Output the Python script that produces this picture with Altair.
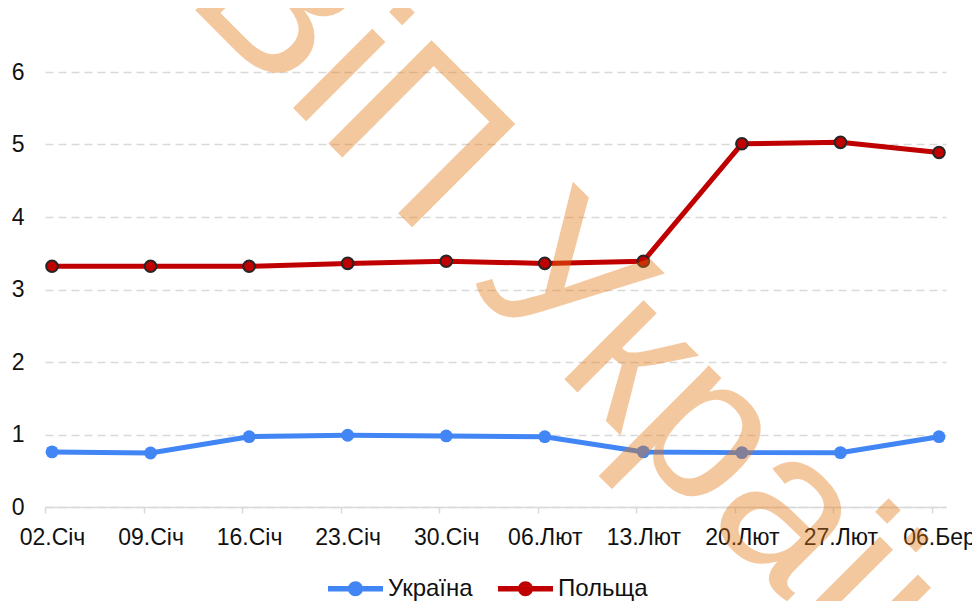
import altair as alt
import pandas as pd

dates = ["02.Січ", "09.Січ", "16.Січ", "23.Січ", "30.Січ",
         "06.Лют", "13.Лют", "20.Лют", "27.Лют", "06.Бер"]
ukraine = [0.76, 0.745, 0.97, 0.99, 0.98, 0.97, 0.76, 0.75, 0.75, 0.97]
poland = [3.32, 3.32, 3.32, 3.36, 3.39, 3.36, 3.39, 5.01, 5.03, 4.89]
series_names = ["Україна", "Польща"]
series_colors = ["#4285F4", "#C00000"]
y_ticks = [0, 1, 2, 3, 4, 5, 6]
watermark = "ВіП України"

rows = []
for d, v in zip(dates, ukraine):
    rows.append({"date": d, "value": v, "series": series_names[0]})
for d, v in zip(dates, poland):
    rows.append({"date": d, "value": v, "series": series_names[1]})
df = pd.DataFrame(rows)

FONT = "Liberation Sans"

legend_path = ("M-1,-0.096L1,-0.096L1,0.096L-1,0.096Z "
               "M0.273,0A0.273,0.273,0,1,1,-0.273,0A0.273,0.273,0,1,1,0.273,0Z")

x_enc = alt.X(
    "date:N", sort=dates, title=None,
    scale=alt.Scale(type="point", padding=0.071),
    axis=alt.Axis(
        labelAngle=0, labelFontSize=23, labelFont=FONT, labelColor="#111111",
        labelPadding=13, tickSize=6, tickColor="#D9D9D9", tickWidth=1.5,
        tickOffset=-7, labelOffset=7,
        domainColor="#D9D9D9", domainWidth=1.5, grid=False,
    ),
)
y_enc = alt.Y(
    "value:Q", title=None,
    scale=alt.Scale(domain=[0, 6], nice=False),
    axis=alt.Axis(
        values=y_ticks, labelFontSize=23, labelFont=FONT, labelColor="#111111",
        labelPadding=21, ticks=False, domain=False,
        grid=True, gridColor="#D9D9D9", gridDash=[8, 5], gridWidth=1.3,
    ),
)

base = alt.Chart(df)
is_pl = alt.datum.series == series_names[1]

lines = base.mark_line(strokeWidth=5).encode(
    x=x_enc, y=y_enc,
    detail="series:N",
    stroke=alt.condition(is_pl, alt.value(series_colors[1]), alt.value(series_colors[0])),
)

points = base.mark_point(filled=True, opacity=1).encode(
    x=x_enc, y=y_enc,
    fill=alt.Fill(
        "series:N", sort=series_names,
        scale=alt.Scale(domain=series_names, range=series_colors),
        legend=alt.Legend(
            title=None, orient="none", direction="horizontal",
            legendX=283, legendY=489, padding=0,
            symbolType=legend_path, symbolSize=3025, symbolStrokeWidth=0,
            symbolOpacity=1,
            labelFontSize=24, labelFont=FONT, labelColor="#111111",
            labelOffset=5, columnPadding=25,
        ),
    ),
    stroke=alt.condition(is_pl, alt.value("#262626"), alt.value(series_colors[0])),
    strokeWidth=alt.condition(is_pl, alt.value(2), alt.value(0)),
    size=alt.condition(is_pl, alt.value(135), alt.value(165)),
)

wm = alt.Chart(pd.DataFrame({"t": [watermark]})).mark_text(
    font=FONT, fontSize=212, angle=45, align="left", baseline="alphabetic",
    color="#E67811", opacity=0.4,
).encode(text="t:N", x=alt.value(138), y=alt.value(-74))

chart = alt.layer(lines, points, wm).properties(
    width=901, height=435,
    autosize=alt.AutoSizeParams(type="none"),
    padding={"left": 37, "top": 64, "right": 26, "bottom": 98},
).configure_view(stroke=None)

chart.save("out.html", embed_options={"renderer": "svg", "actions": False})
